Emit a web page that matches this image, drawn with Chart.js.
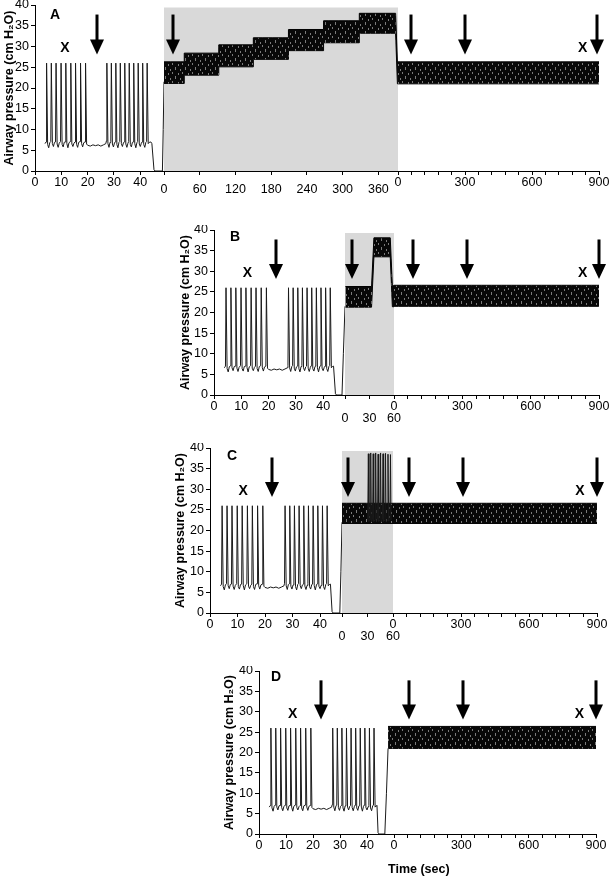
<!DOCTYPE html>
<html>
<head>
<meta charset="utf-8">
<script src="https://cdn.jsdelivr.net/npm/chart.js@4.4.0/dist/chart.umd.min.js"></script>
<style>
  html, body { margin: 0; padding: 0; background: #fff; }
  body { width: 609px; height: 878px; position: relative; overflow: hidden; }
  canvas { position: absolute; display: block; }
  #timeLabel {
    position: absolute; left: 388px; top: 862px;
    font-family: "Liberation Sans", Arial, sans-serif;
    font-weight: bold; font-size: 12.5px; line-height: 15px; color: #000;
  }
</style>
</head>
<body>
<canvas id="chartA" width="609" height="200" style="left:0px;top:0px"></canvas>
<canvas id="chartB" width="433" height="210" style="left:176px;top:225px"></canvas>
<canvas id="chartC" width="438" height="210" style="left:171px;top:443px"></canvas>
<canvas id="chartD" width="389" height="197" style="left:220px;top:666px"></canvas>
<div id="timeLabel">Time (sec)</div>
<script>
// Spontaneous breathing before the manoeuvre (sec, cm H2O), same pattern in all panels
const spontTrace = [
    [3.8, 6.6],
    [4.2, 7.0], [4.4, 26.0], [4.8, 6.4], [5.2, 5.6], [5.6, 6.8],
    [6.0, 7.1], [6.2, 26.0], [6.6, 6.6], [7.0, 5.9], [7.4, 6.9],
    [7.8, 7.0], [8.0, 26.0], [8.4, 6.5], [8.8, 5.7], [9.2, 6.7],
    [9.7, 7.1], [9.9, 26.0], [10.3, 6.4], [10.7, 5.8], [11.1, 6.9],
    [11.5, 7.0], [11.7, 26.0], [12.1, 6.6], [12.5, 5.6], [12.9, 6.8],
    [13.4, 7.1], [13.6, 26.0], [14.0, 6.5], [14.4, 5.9], [14.8, 6.7],
    [15.2, 7.0], [15.4, 26.0], [15.8, 6.4], [16.2, 5.7], [16.6, 6.9],
    [17.1, 7.1], [17.3, 26.0], [17.7, 6.6], [18.1, 5.8], [18.5, 6.8],
    [19.0, 7.0], [19.2, 26.0], [19.6, 6.5],
    [20.0, 6.2], [21.0, 6.0], [22.0, 6.3], [23.0, 6.1], [24.0, 6.3], [25.0, 6.0], [26.0, 6.3], [26.9, 6.6],
    [27.1, 7.2], [27.3, 26.0], [27.7, 6.6], [28.1, 5.7], [28.5, 6.9],
    [28.8, 7.1], [29.0, 26.0], [29.4, 6.5], [29.8, 5.8], [30.2, 6.8],
    [30.5, 7.0], [30.7, 26.0], [31.1, 6.4], [31.5, 5.6], [31.9, 6.9],
    [32.2, 7.1], [32.4, 26.0], [32.8, 6.6], [33.2, 5.9], [33.6, 6.8],
    [33.9, 7.0], [34.1, 26.0], [34.5, 6.5], [34.9, 5.7], [35.3, 6.7],
    [35.6, 7.1], [35.8, 26.0], [36.2, 6.4], [36.6, 5.8], [37.0, 6.9],
    [37.3, 7.0], [37.5, 26.0], [37.9, 6.6], [38.3, 5.6], [38.7, 6.8],
    [39.0, 7.1], [39.2, 26.0], [39.6, 6.5], [40.0, 5.9], [40.4, 6.7],
    [40.7, 7.0], [40.9, 26.0], [41.3, 6.4], [41.7, 5.7], [42.1, 6.9],
    [42.4, 7.1], [42.6, 26.0], [43.0, 6.6], [43.4, 6.9]
];

// Disconnection (drop to 0) and reconnection, per panel
const tailA = [[44.0, 7.0], [44.4, 6.6], [45.2, 0.3], [45.6, 0], [48.4, 0], [48.7, 10], [49.0, 21.5]];
const tailB = [[43.8, 7.0], [44.5, 0.3], [44.9, 0], [46.9, 0], [47.4, 10], [48.0, 21.5]];
const tailC = [[43.8, 7.0], [44.4, 0.3], [44.8, 0], [47.2, 0], [47.6, 10], [48.0, 22.0]];
const tailD = [[43.7, 7.0], [44.1, 0.3], [44.5, 0], [46.6, 0], [47.2, 10], [47.8, 21.0]];

// Panel A: stepwise recruitment (0-393 s) - upper / lower edge of the pressure band
const rampUpperA = [[0, 26.3], [34, 26.3], [34, 28.4], [92, 28.4], [92, 30.4], [150, 30.4], [150, 32.1],
    [209, 32.1], [209, 34.1], [268, 34.1], [268, 36.2], [328, 36.2], [328, 38.0], [389, 38.0], [392, 26.3], [393, 26.3]];
const rampLowerA = [[0, 21.1], [34, 21.1], [34, 23.1], [92, 23.1], [92, 25.1], [150, 25.1], [150, 26.9],
    [209, 26.9], [209, 29.0], [268, 29.0], [268, 30.9], [328, 30.9], [328, 33.2], [389, 33.2], [392, 21.0], [393, 21.0]];
const postUpperA = [[0, 26.3], [900, 26.3]];
const postLowerA = [[0, 21.0], [900, 21.0]];
const shadeA = [[0, 39.4], [393, 39.4]];

// Panel B: sustained inflation (0-60 s)
const rampUpperB = [[0.5, 26.3], [32.5, 26.3], [35.4, 38.1], [55.4, 38.1], [58.0, 26.5], [60, 26.5]];
const rampLowerB = [[0.5, 21.3], [32.5, 21.3], [35.4, 33.5], [55.4, 33.5], [58.0, 21.4], [60, 21.4]];
const postUpperB = [[0, 26.6], [900, 26.6]];
const postLowerB = [[0, 21.5], [900, 21.5]];
const shadeB = [[0, 39.3], [60, 39.3]];

// Panel C: sighs (0-60 s)
const rampUpperC = [[0, 26.6], [60, 26.6]];
const rampLowerC = [[0, 21.7], [60, 21.7]];
const sighsC = [
    [30.3, 22.5], [31.0, 38.6], [31.7, 22.2], [33.1, 22.6], [33.8, 38.8], [34.5, 22.1],
    [36.0, 22.7], [36.7, 38.6], [37.4, 22.2], [38.9, 22.6], [39.6, 38.8], [40.3, 22.1],
    [41.8, 22.7], [42.5, 38.5], [43.2, 22.2], [44.7, 22.6], [45.4, 38.8], [46.1, 22.1],
    [47.6, 22.7], [48.3, 38.6], [49.0, 22.2], [50.5, 22.6], [51.2, 38.7], [51.9, 22.1],
    [53.4, 22.5], [54.1, 38.5], [54.8, 22.3], [56.3, 22.6], [57.0, 38.4], [57.7, 22.5]
];
const postUpperC = [[0, 26.6], [900, 26.6]];
const postLowerC = [[0, 21.7], [900, 21.7]];
const shadeC = [[0, 39.3], [60, 39.3]];

// Panel D: no recruitment manoeuvre
const reconUpperD = [[47.8, 26.4], [50, 26.4]];
const reconLowerD = [[47.8, 21.0], [50, 21.0]];
const postUpperD = [[0, 26.4], [900, 26.4]];
const postLowerD = [[0, 21.0], [900, 21.0]];

// Sampling arrows and "X" marks: [axis, time in sec]
const arrowsA = [['x1', 23.4], ['x2', 15], ['x3', 57], ['x3', 300], ['x3', 892]];
const xMarksA = [['x1', 11.4], ['x3', 827]];
const arrowsB = [['x1', 22.7], ['x2', 8.2], ['x3', 82], ['x3', 322], ['x3', 900]];
const xMarksB = [['x1', 12.2], ['x3', 828]];
const arrowsC = [['x1', 22.4], ['x2', 7.4], ['x3', 71], ['x3', 310], ['x3', 898]];
const xMarksC = [['x1', 12.1], ['x3', 825]];
const arrowsD = [['x1', 22.9], ['x3', 67], ['x3', 309], ['x3', 900]];
const xMarksD = [['x1', 12.5], ['x3', 826]];

const FONT = '"Liberation Sans", Arial, sans-serif';
const ARROW_TOP = 37.7;
const ARROW_TIP = 28.1;
const X_LEVEL = 29.5;

Chart.defaults.font.family = FONT;
Chart.defaults.color = '#000';

// Texture for the dense ventilation bands (mostly black, thin grey streaks)
function bandPattern() {
    const c = document.createElement('canvas');
    c.width = 10;
    c.height = 9;
    const g = c.getContext('2d');
    g.fillStyle = '#080808';
    g.fillRect(0, 0, 10, 9);
    g.fillStyle = '#7a7a7a';
    g.fillRect(2, 0, 1, 2);
    g.fillRect(5, 4, 1, 3);
    g.fillRect(8, 1, 1, 2);
    g.fillRect(0, 6, 1, 2);
    return g.createPattern(c, 'repeat');
}
const pattern = bandPattern();

function trace(data, axis) {
    return { data: data, xAxisID: axis, borderColor: '#1a1a1a', borderWidth: 1, fill: false, order: 1 };
}

function band(upper, lower, axis) {
    return [
        { data: upper, xAxisID: axis, borderColor: '#000', borderWidth: 1, backgroundColor: pattern, fill: '+1', order: 5 },
        { data: lower, xAxisID: axis, borderColor: '#000', borderWidth: 1, fill: false, order: 5 }
    ];
}

function shade(data, axis) {
    return { data: data, xAxisID: axis, borderWidth: 0, borderColor: 'rgba(0,0,0,0)', backgroundColor: '#d9d9d9', fill: 'origin', order: 10 };
}

// One piece of the broken time axis
function xAxis(a, height) {
    return {
        type: 'linear', axis: 'x', position: 'bottom', stack: 'time', stackWeight: a.weight,
        min: 0, max: a.max, bounds: 'data', offset: false,
        grid: { drawOnChartArea: false, drawTicks: true, tickLength: 4, color: '#000' },
        border: { display: true, color: '#000', width: 1 },
        ticks: {
            stepSize: a.step, includeBounds: false, autoSkip: false, maxRotation: 0, minRotation: 0,
            padding: a.pad || 0, color: '#000', font: { family: FONT, size: 12.5 },
            callback: v => (v % a.labelEvery === 0 ? String(v) : '')
        },
        afterBuildTicks: s => { s.ticks = s.ticks.filter(t => t.value % a.step === 0 && t.value <= a.lastTick); },
        afterFit: s => { s.height = height; s.paddingLeft = 0; s.paddingRight = 0; }
    };
}

function yAxis(width) {
    return {
        type: 'linear', position: 'left', min: 0, max: 40,
        grid: { drawOnChartArea: false, drawTicks: true, tickLength: 4, color: '#000' },
        border: { display: true, color: '#000', width: 1 },
        ticks: { stepSize: 5, padding: 2, color: '#000', font: { family: FONT, size: 12.5 } },
        title: {
            display: true, text: 'Airway pressure (cm H\u2082O)', color: '#000',
            font: { family: FONT, size: 12.5, weight: 'bold' }, padding: { top: 2, bottom: 0 }
        },
        afterFit: s => { s.width = width; s.paddingTop = 0; s.paddingBottom = 0; }
    };
}

// Arrows, X marks and panel letter
const marksPlugin = {
    id: 'marks',
    afterDatasetsDraw(chart, args, opts) {
        const ctx = chart.ctx;
        const y = chart.scales.y;
        const area = chart.chartArea;
        ctx.save();
        ctx.fillStyle = '#000';
        ctx.textAlign = 'center';
        ctx.textBaseline = 'middle';
        ctx.font = 'bold 14px ' + FONT;
        ctx.fillText(opts.letter, area.left + opts.letterAt[0], area.top + opts.letterAt[1]);
        opts.xMarks.forEach(([axis, t]) => {
            ctx.fillText('X', chart.scales[axis].getPixelForValue(t), y.getPixelForValue(X_LEVEL));
        });
        opts.arrows.forEach(([axis, t]) => {
            const px = Math.round(chart.scales[axis].getPixelForValue(t));
            const top = y.getPixelForValue(ARROW_TOP);
            const tip = y.getPixelForValue(ARROW_TIP);
            const headTop = tip - 15;
            ctx.fillRect(px - 1.5, top, 3, headTop - top + 1);
            ctx.beginPath();
            ctx.moveTo(px - 7, headTop);
            ctx.lineTo(px + 7, headTop);
            ctx.lineTo(px, tip);
            ctx.closePath();
            ctx.fill();
        });
        ctx.restore();
    }
};

function makePanel(canvasId, cfg) {
    const scales = { y: yAxis(cfg.yWidth) };
    Object.keys(cfg.axes).forEach(id => { scales[id] = xAxis(cfg.axes[id], cfg.axisHeight); });
    return new Chart(document.getElementById(canvasId), {
        type: 'line',
        data: { datasets: cfg.datasets },
        options: {
            responsive: false,
            animation: false,
            devicePixelRatio: 1,
            events: [],
            layout: { padding: cfg.padding },
            elements: { point: { radius: 0 }, line: { tension: 0 } },
            scales: scales,
            plugins: {
                legend: { display: false },
                tooltip: { enabled: false },
                marks: { letter: cfg.letter, letterAt: cfg.letterAt, arrows: cfg.arrows, xMarks: cfg.xMarks }
            }
        },
        plugins: [marksPlugin]
    });
}

makePanel('chartA', {
    letter: 'A', letterAt: [20, 10], yWidth: 35, axisHeight: 28,
    padding: { top: 5, right: 10, bottom: 1, left: 0 },
    axes: {
        x1: { max: 49, weight: 129, step: 10, labelEvery: 10, lastTick: 40 },
        x2: { max: 393, weight: 234, step: 60, labelEvery: 60, lastTick: 360, pad: 7 },
        x3: { max: 900, weight: 201, step: 60, labelEvery: 300, lastTick: 900 }
    },
    datasets: [
        shade(shadeA, 'x2'),
        trace(spontTrace.concat(tailA), 'x1'),
        ...band(rampUpperA, rampLowerA, 'x2'),
        ...band(postUpperA, postLowerA, 'x3')
    ],
    arrows: arrowsA, xMarks: xMarksA
});

makePanel('chartB', {
    letter: 'B', letterAt: [21, 7], yWidth: 38, axisHeight: 36,
    padding: { top: 5, right: 10, bottom: 4, left: 0 },
    axes: {
        x1: { max: 48, weight: 131, step: 10, labelEvery: 10, lastTick: 40 },
        x2: { max: 60, weight: 49, step: 30, labelEvery: 30, lastTick: 60, pad: 12 },
        x3: { max: 900, weight: 205, step: 60, labelEvery: 300, lastTick: 900 }
    },
    datasets: [
        shade(shadeB, 'x2'),
        trace(spontTrace.concat(tailB), 'x1'),
        ...band(rampUpperB, rampLowerB, 'x2'),
        ...band(postUpperB, postLowerB, 'x3')
    ],
    arrows: arrowsB, xMarks: xMarksB
});

makePanel('chartC', {
    letter: 'C', letterAt: [22, 8], yWidth: 39, axisHeight: 36,
    padding: { top: 5, right: 12, bottom: 4, left: 0 },
    axes: {
        x1: { max: 48, weight: 132, step: 10, labelEvery: 10, lastTick: 40 },
        x2: { max: 60, weight: 51, step: 30, labelEvery: 30, lastTick: 60, pad: 12 },
        x3: { max: 900, weight: 204, step: 60, labelEvery: 300, lastTick: 900 }
    },
    datasets: [
        shade(shadeC, 'x2'),
        trace(spontTrace.concat(tailC), 'x1'),
        ...band(rampUpperC, rampLowerC, 'x2'),
        trace(sighsC, 'x2'),
        ...band(postUpperC, postLowerC, 'x3')
    ],
    arrows: arrowsC, xMarks: xMarksC
});

makePanel('chartD', {
    letter: 'D', letterAt: [17, 6], yWidth: 39, axisHeight: 25,
    padding: { top: 5, right: 13, bottom: 4, left: 0 },
    axes: {
        x1: { max: 50, weight: 135, step: 10, labelEvery: 10, lastTick: 40 },
        x3: { max: 900, weight: 202, step: 60, labelEvery: 300, lastTick: 900 }
    },
    datasets: [
        trace(spontTrace.concat(tailD), 'x1'),
        ...band(reconUpperD, reconLowerD, 'x1'),
        ...band(postUpperD, postLowerD, 'x3')
    ],
    arrows: arrowsD, xMarks: xMarksD
});
</script>
</body>
</html>
